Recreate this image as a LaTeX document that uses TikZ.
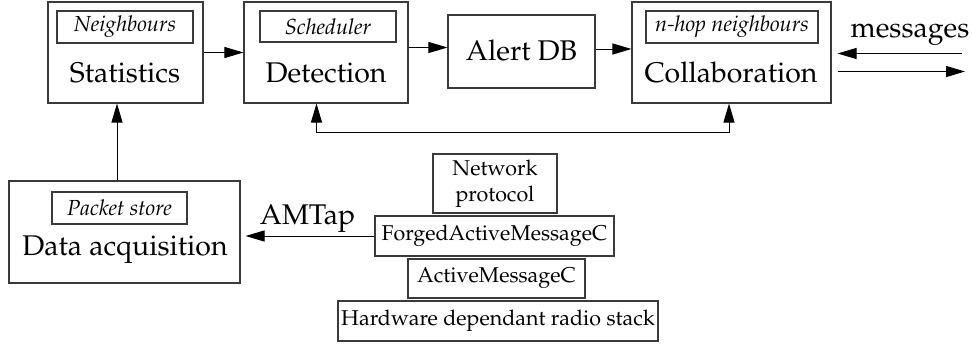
\documentclass[tikz,border=0pt]{standalone}
\usepackage[T1]{fontenc}
\usepackage{mathpazo}
\usetikzlibrary{arrows.meta}
\definecolor{ink}{HTML}{000000}
\definecolor{frame}{HTML}{3A3A3A}
\tikzset{
    module/.style={
        rectangle,
        draw=frame,
        line width=0.6pt,
        inner sep=0pt
    },
    tagbox/.style={
        rectangle,
        draw=frame,
        line width=0.6pt,
        inner sep=0pt,
        font=\fontsize{12.4}{14}\selectfont\itshape,
        text=ink
    },
    stackbox/.style={
        rectangle,
        draw=frame,
        line width=0.6pt,
        inner sep=0pt,
        align=center,
        font=\fontsize{12.2}{14.6}\selectfont,
        text=ink
    },
    modtitle/.style={
        font=\fontsize{16.2}{19}\selectfont,
        text=ink
    },
    flow/.style={
        -{Triangle[length=0.38cm,width=0.22cm]},
        draw=ink,
        line width=0.55pt
    },
    twoway/.style={
        {Triangle[length=0.38cm,width=0.22cm]}-{Triangle[length=0.38cm,width=0.22cm]},
        draw=ink,
        line width=0.55pt
    }
}

\begin{document}
\begin{tikzpicture}[x=1cm,y=1cm]
    \useasboundingbox (0,0) rectangle (19.44,6.86);

    % Upper row of modules
    \node[module, minimum width=3.10cm, minimum height=2.02cm] (stat) at (2.51,5.81) {};
    \node[tagbox, minimum width=2.72cm, minimum height=0.64cm] (stat-tag) at (2.50,6.32) {Neighbours};
    \node[modtitle] (stat-title) at (2.50,5.40) {Statistics};

    \node[module, minimum width=3.28cm, minimum height=2.02cm] (det) at (6.52,5.81) {};
    \node[tagbox, minimum width=2.72cm, minimum height=0.62cm] (det-tag) at (6.56,6.33) {Scheduler};
    \node[modtitle] (det-title) at (6.52,5.40) {Detection};

    \node[module, minimum width=2.94cm, minimum height=1.46cm] (alert) at (10.43,5.83) {};
    \node[modtitle] (alert-title) at (10.43,5.85) {Alert DB};

    \node[module, minimum width=3.98cm, minimum height=2.02cm] (collab) at (14.63,5.81) {};
    \node[tagbox, minimum width=3.44cm, minimum height=0.64cm] (collab-tag) at (14.64,6.32) {n-hop neighbours};
    \node[modtitle] (collab-title) at (14.62,5.40) {Collaboration};

    % Acquisition module
    \node[module, minimum width=4.62cm, minimum height=2.04cm] (daq) at (2.49,2.22) {};
    \node[tagbox, minimum width=2.70cm, minimum height=0.64cm] (daq-tag) at (2.39,2.70) {Packet store};
    \node[modtitle] (daq-title) at (2.50,1.86) {Data acquisition};

    % Radio stack
    \node[stackbox, minimum width=2.48cm, minimum height=1.18cm] (net) at (9.90,3.19) {Network\\protocol};
    \node[stackbox, minimum width=4.78cm, minimum height=0.80cm] (forged) at (9.89,2.14) {ForgedActiveMessageC};
    \node[stackbox, minimum width=3.54cm, minimum height=0.78cm] (amc) at (9.93,1.29) {ActiveMessageC};
    \node[stackbox, minimum width=6.40cm, minimum height=0.80cm] (hw) at (9.96,0.44) {Hardware dependant radio stack};

    % Main flow
    \draw[flow] (stat.east) -- (det.west);
    \draw[flow] ([yshift=0.10cm]det.east) -- ([yshift=0.10cm]det.east -| alert.west);
    \draw[flow] ([yshift=0.05cm]alert.east) -- ([yshift=0.05cm]alert.east -| collab.west);
    \draw[flow] ([xshift=-0.15cm]daq.north) -- ([xshift=-0.15cm]daq.north |- stat.south);
    \draw[twoway] ([xshift=-0.19cm]det.south) -- ++(0,-0.57) -| ([xshift=-0.05cm]collab.south);

    % Messages in and out
    \coordinate (msg-in) at (19.24,5.79);
    \coordinate (msg-out) at (19.30,5.43);
    \draw[flow] (msg-in) -- ([xshift=0.12cm]collab.east |- msg-in);
    \draw[flow] ([xshift=0.12cm]collab.east |- msg-out) -- (msg-out);
    \node[modtitle] (msg-label) at (18.20,6.16) {messages};

    % Tap into acquisition
    \draw[flow, shorten >=0.10cm] (forged.west) -- (forged.west -| daq.east)
        node[modtitle, midway, above, yshift=-0.06cm] (tap-label) {AMTap};

\end{tikzpicture}
\end{document}
